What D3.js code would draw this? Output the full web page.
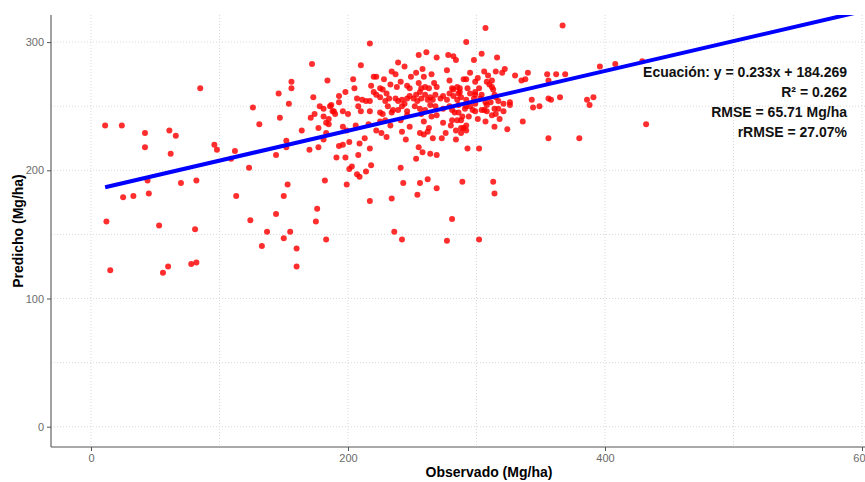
<!DOCTYPE html>
<html>
<head>
<meta charset="utf-8">
<script src="https://cdn.jsdelivr.net/npm/d3@7"></script>
<style>
  body { margin: 0; background: #fff; }
  text { font-family: "Liberation Sans", Arial, Helvetica, sans-serif; }
</style>
</head>
<body>
<svg id="chart" width="865" height="482"></svg>
<script>
// Pares [observado, predicho] en Mg/ha
const muestras = [
  [11,235],[12,160],[15,122],[24,235],[25,179],[33,180],[42,229],[42,218],[44,192],[45,182],
  [53,157],[56,120],[60,125],[61,231],[62,213],[66,227],[70,190],[78,127],[81,154],[82,128],
  [82,192],[85,264],[96,220],[98,216],[109,209],[112,215],[113,180],[123,202],[124,161],[126,249],
  [131,236],[133,141],[137,152],[144,166],[144,212],[146,260],[147,241],[150,180],[150,147],[152,223],
  [152,218],[153,189],[154,252],[155,152],[156,269],[156,264],[160,139],[160,125],[164,231],
  [170,216],[171,241],[172,283],[173,257],[174,244],[175,160],[176,170],[177,233],[177,218],[178,250],
  [181,248],[181,242],[181,224],[182,192],[183,146],[183,237],[183,229],[184,270],[185,240],[185,236],
  [186,250],[187,251],[188,246],[189,246],[190,244],[191,210],[193,258],[193,253],[193,219],[196,220],
  [196,234],[196,246],[198,210],[198,261],[199,231],[199,189],
  [217,299],[210,282],[255,290],[261,292],[269,288],[278,290],[282,289],[284,286],[239,284],[244,281],
  [234,277],[237,275],[249,273],[253,276],[258,279],[259,273],[265,275],[277,278],[220,273],[222,273],
  [228,271],[204,271],[241,269],[233,267],[218,266],[225,264],[227,263],[238,265],[246,266],[248,264],
  [255,268],[257,264],[260,265],[263,264],[267,268],[269,265],[279,270],[281,264],[282,263],[285,265],
  [287,261],[205,264],
  [207,256],[211,255],[214,254],[217,254],[220,261],[222,259],[225,257],[230,260],[229,254],[232,256],
  [237,256],[239,254],[242,255],[244,252],[246,256],[248,258],[251,256],[253,259],[254,254],[256,261],
  [257,256],[260,259],[262,255],[264,257],[266,255],[268,259],[272,256],[274,258],[277,255],[279,260],
  [282,258],[285,255],
  [200,244],[208,250],[210,246],[217,246],[225,245],[227,244],[231,250],[235,247],[239,247],[242,250],
  [246,246],[252,250],[256,248],[260,247],[264,251],[268,250],[274,248],[279,250],[286,251],
  [234,245],[246,243],[257,244],[269,243],[281,247],
  [259,238],[265,242],[274,237],[280,235],[281,239],[285,239],[288,239],[290,233],[292,235],[241,239],
  [245,224],[225,238],[229,239],[233,235],[222,231],[226,229],[230,226],[216,236],[206,235],[242,230],
  [248,234],[256,229],[263,233],
  [201,222],[209,221],[213,225],[217,217],[208,212],[203,203],[201,201],[207,197],[209,195],[214,199],
  [218,204],[217,176],[234,178],[236,152],[242,146],[241,202],[243,190],[254,181],[256,190],[262,193],
  [269,186],[255,218],[258,214],[253,209],[264,213],[269,212],[259,228],[262,230],[266,225],[273,225],
  [276,229],[284,224],[277,145],[281,162],[289,191],[293,217],[302,217],[302,146],[313,191],[314,182],
  [307,311],[292,300],[367,313],[304,291],[298,286],[316,288],[295,276],[306,277],[309,274],[315,277],
  [322,279],[320,276],[330,274],[335,270],[338,271],[340,276],[355,275],[362,275],[369,275],[356,270],
  [343,255],[344,249],[349,250],[356,256],[358,255],[365,257],[336,238],[356,225],[380,225],[386,255],
  [388,251],[391,257],[326,253],[326,251],[324,232],[317,248],[318,240],[321,246],[314,234],[301,240],
  [307,238],[294,242],[283,245],[286,245],[292,250],[295,250],[299,252],[306,247],[308,251],[311,253],
  [312,243],[315,257],[317,254],[313,263],[314,259],[304,259],[303,256],[299,259],[298,256],[293,264],
  [290,271],[292,271],[301,272],[299,269],[308,269],[310,267],[312,270],[312,265],
  [302,264],[299,261],[295,260],[287,264],[288,257],[286,260],[292,255],[288,233],[289,242],[291,248],
  [297,247],[299,246],[304,247],[308,246],[314,248],[315,244],[307,253],[288,229],[292,231],[284,231],
  [321,252],
  [396,281],[408,283],[429,285],[432,236]
];

// Recta de ajuste lineal
const pendiente = 0.233;
const intercepto = 184.269;
const rangoAjuste = [11, 600];

// Marcas de los ejes
const xTicks = [0, 200, 400, 600];
const yTicks = [0, 100, 200, 300];
const xMenores = [100, 300, 500];
const yMenores = [50, 150, 250];

const etiquetas = [
  "Ecuación: y = 0.233x + 184.269",
  "R² = 0.262",
  "RMSE = 65.71 Mg/ha",
  "rRMSE = 27.07%"
];

const svg = d3.select("#chart");
const panel = { left: 51, top: 15, right: 930, bottom: 447 };

const x = d3.scaleLinear().domain([0, 600]).range([91, 862]);
const y = d3.scaleLinear().domain([0, 300]).range([426.7, 42.1]);

svg.append("defs").append("clipPath").attr("id", "recorte")
  .append("rect")
  .attr("x", panel.left).attr("y", panel.top)
  .attr("width", panel.right - panel.left).attr("height", panel.bottom - panel.top);

// Rejilla punteada
const rejilla = svg.append("g").attr("stroke", "#d6d6d6").attr("stroke-width", 0.9)
  .attr("stroke-dasharray", "1,2").attr("fill", "none");
xTicks.concat(xMenores).forEach(v => {
  rejilla.append("line").attr("x1", x(v)).attr("x2", x(v))
    .attr("y1", panel.top).attr("y2", panel.bottom);
});
yTicks.concat(yMenores).forEach(v => {
  rejilla.append("line").attr("x1", panel.left).attr("x2", panel.right)
    .attr("y1", y(v)).attr("y2", y(v));
});

const area = svg.append("g").attr("clip-path", "url(#recorte)");

// Puntos
area.append("g").selectAll("circle").data(muestras).join("circle")
  .attr("cx", d => x(d[0]))
  .attr("cy", d => y(d[1]))
  .attr("r", 3)
  .attr("fill", "#ff0000")
  .attr("fill-opacity", 0.82);

// Línea de regresión
const tramo = rangoAjuste.map(v => [v, pendiente * v + intercepto]);
area.append("path")
  .datum(tramo)
  .attr("d", d3.line().x(d => x(d[0])).y(d => y(d[1])))
  .attr("stroke", "#0000ff")
  .attr("stroke-width", 4)
  .attr("fill", "none");

// Ejes
const ejeY = svg.append("g").attr("transform", `translate(${panel.left},0)`)
  .call(d3.axisLeft(y).tickValues(yTicks).tickSize(4).tickPadding(3).tickFormat(d3.format("d")));
const ejeX = svg.append("g").attr("transform", `translate(0,${panel.bottom})`)
  .call(d3.axisBottom(x).tickValues(xTicks).tickSize(4).tickPadding(3).tickFormat(d3.format("d")));
[ejeX, ejeY].forEach(g => {
  g.select(".domain").remove();
  g.selectAll(".tick line").attr("stroke", "#555").attr("stroke-width", 1);
  g.selectAll(".tick text").attr("fill", "#6b6b6b").attr("font-size", 11)
    .style("font-family", '"Liberation Sans", Arial, sans-serif');
});

svg.append("line").attr("x1", panel.left).attr("x2", panel.left)
  .attr("y1", panel.top).attr("y2", panel.bottom)
  .attr("stroke", "#555").attr("stroke-width", 1.1);
svg.append("line").attr("x1", panel.left).attr("x2", panel.right)
  .attr("y1", panel.bottom).attr("y2", panel.bottom)
  .attr("stroke", "#555").attr("stroke-width", 1.1);

// Títulos de ejes
svg.append("text")
  .attr("x", 489).attr("y", 477)
  .attr("text-anchor", "middle")
  .attr("font-size", 14).attr("font-weight", "bold").attr("fill", "#000")
  .text("Observado (Mg/ha)");
svg.append("text")
  .attr("transform", `translate(23,${(panel.top + panel.bottom) / 2}) rotate(-90)`)
  .attr("text-anchor", "middle")
  .attr("font-size", 14).attr("font-weight", "bold").attr("fill", "#000")
  .text("Predicho (Mg/ha)");

// Estadísticos del ajuste
svg.append("g").selectAll("text").data(etiquetas).join("text")
  .attr("x", 847)
  .attr("y", (d, i) => 76.5 + i * 20.2)
  .attr("text-anchor", "end")
  .attr("font-size", 14).attr("font-weight", "bold").attr("fill", "#111")
  .text(d => d);
</script>
</body>
</html>
